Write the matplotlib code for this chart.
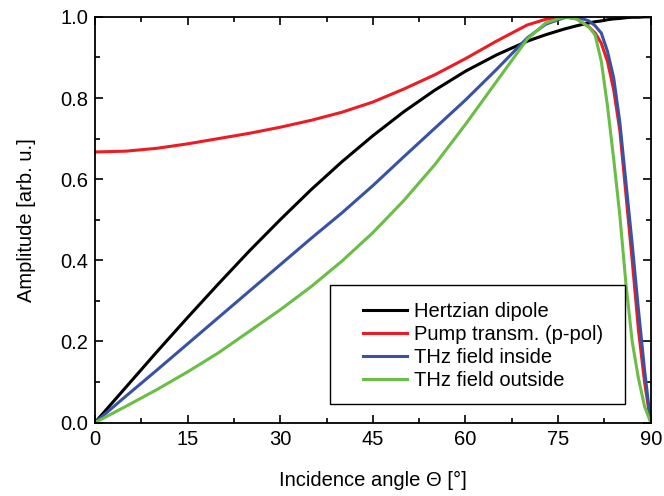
import matplotlib
matplotlib.use('Agg')
from matplotlib import pyplot as plt
from matplotlib.ticker import MultipleLocator
from matplotlib.patches import Rectangle

plt.rcParams['font.family'] = ['Liberation Sans', 'DejaVu Sans']

# incidence angle in degrees
theta = [0, 5, 10, 15, 20, 25, 30, 35, 40, 45, 50, 55, 60, 65, 70, 73, 76,
         78, 80, 81, 82, 83, 84, 85, 86, 87, 88, 89, 90]

hertz = [0.0, 0.087, 0.174, 0.259, 0.342, 0.423, 0.5, 0.574, 0.643, 0.707,
         0.766, 0.819, 0.866, 0.906, 0.940, 0.956, 0.970, 0.978, 0.985, 0.988,
         0.990, 0.993, 0.995, 0.996, 0.998, 0.999, 0.999, 1.0, 1.0]
pump = [0.667, 0.669, 0.676, 0.687, 0.700, 0.713, 0.728, 0.745, 0.765, 0.790,
        0.822, 0.857, 0.897, 0.94, 0.98, 0.994, 1.0, 0.995, 0.975, 0.96,
        0.935, 0.89, 0.82, 0.72, 0.56, 0.40, 0.23, 0.10, 0.0]
thz_in = [0.0, 0.065, 0.129, 0.194, 0.259, 0.324, 0.389, 0.454, 0.517, 0.584,
          0.655, 0.725, 0.795, 0.87, 0.948, 0.982, 0.998, 1.0, 0.99, 0.978,
          0.96, 0.915, 0.85, 0.74, 0.59, 0.44, 0.28, 0.13, 0.0]
thz_out = [0.0, 0.04, 0.081, 0.125, 0.172, 0.225, 0.278, 0.335, 0.398, 0.468,
           0.547, 0.635, 0.735, 0.84, 0.945, 0.985, 1.0, 0.995, 0.975, 0.955,
           0.89, 0.78, 0.65, 0.51, 0.34, 0.20, 0.11, 0.04, 0.0]

labels = ['Hertzian dipole', 'Pump transm. (p-pol)', 'THz field inside',
          'THz field outside']
cols = ['#000000', '#ed1c24', '#3953a4', '#6abd45']

fs = 14.5

fig = plt.figure(figsize=(6.64, 4.96), dpi=100)
ax = fig.add_axes([0.143, 0.148, 0.837, 0.818])

for y, lab, c in zip([hertz, pump, thz_in, thz_out], labels, cols):
	ax.plot(theta, y, color=c, lw=2.2, label=lab)

ax.set_xlim(0, 90)
ax.set_ylim(0, 1)
ax.xaxis.set_major_locator(MultipleLocator(15))
ax.xaxis.set_minor_locator(MultipleLocator(7.5))
ax.yaxis.set_major_locator(MultipleLocator(0.2))
ax.yaxis.set_minor_locator(MultipleLocator(0.1))
ax.yaxis.set_major_formatter(plt.FormatStrFormatter('%.1f'))
ax.tick_params(which='both', direction='in', top=True, right=True,
	labelsize=fs, width=1.2)
ax.tick_params(which='major', length=6, pad=5)
ax.tick_params(which='minor', length=3.5)
for s in ax.spines.values():
	s.set_linewidth(1.3)

ax.set_xlabel('Incidence angle \u0398 [\u00b0]', fontsize=fs, labelpad=16)
ax.set_ylabel('Amplitude [arb. u.]', fontsize=fs, labelpad=17)

# legend frame drawn by hand, legend entries placed inside it
ax.add_patch(Rectangle((0.423, 0.046), 0.530, 0.293, transform=ax.transAxes,
	facecolor='white', edgecolor='black', lw=1.0, zorder=4))
leg = ax.legend(loc='center left', bbox_to_anchor=(0.4815, 0.189),
	fontsize=fs, frameon=False, handlelength=2.2, borderpad=0,
	labelspacing=0.2, handletextpad=0.33, borderaxespad=0)
leg.set_zorder(5)

fig.savefig('out.png', dpi=100)
